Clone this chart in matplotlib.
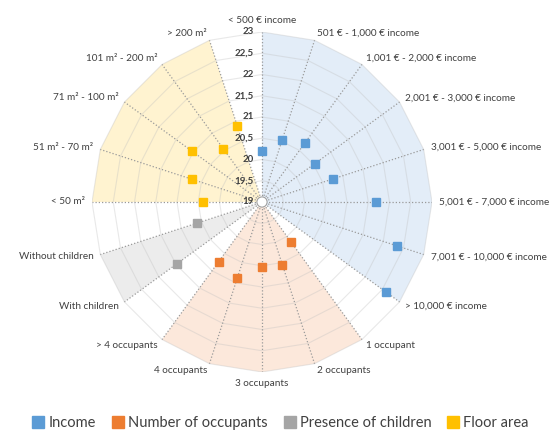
import numpy as np
import matplotlib
matplotlib.use("Agg")
import matplotlib.pyplot as plt
from matplotlib.lines import Line2D
from matplotlib.patches import Circle

plt.rcParams['font.family'] = ['Lato', 'DejaVu Sans']

income_labels = ["< 500 € income", "501 € - 1,000 € income", "1,001 € - 2,000 € income",
                 "2,001 € - 3,000 € income", "3,001 € - 5,000 € income", "5,001 € - 7,000 € income",
                 "7,001 € - 10,000 € income", "> 10,000 € income"]
occupant_labels = ["1 occupant", "2 occupants", "3 occupants", "4 occupants", "> 4 occupants"]
children_labels = ["With children", "Without children"]
floor_labels = ["< 50 m²", "51 m² - 70 m²", "71 m² - 100 m²", "101 m² - 200 m²", "> 200 m²"]

income = [20.2, 20.53, 20.73, 20.53, 20.76, 21.68, 22.34, 22.62]
occupants = [20.16, 20.55, 20.52, 20.88, 20.74]
children = [21.47, 20.61]
floor_area = [20.38, 20.73, 21.03, 20.55, 20.89]

r_ticks = [19, 19.5, 20, 20.5, 21, 21.5, 22, 22.5, 23]
r_tick_labels = ["19", "19,5", "20", "20,5", "21", "21,5", "22", "22,5", "23"]
series_names = ["Income", "Number of occupants", "Presence of children", "Floor area"]
marker_colors = ["#5b9bd5", "#ed7d31", "#a5a5a5", "#ffc000"]
fill_colors = ["#e3edf8", "#fce8db", "#ececec", "#fff3d0"]

groups = [income_labels, occupant_labels, children_labels, floor_labels]
values = [income, occupants, children, floor_area]
categories = sum(groups, [])
N = len(categories)
angles = np.arange(N) * 2 * np.pi / N
rmin, rmax = r_ticks[0], r_ticks[-1]


def xy(theta, v):
    r = np.asarray(v) - rmin
    return r * np.sin(theta), r * np.cos(theta)


fig = plt.figure(figsize=(5.6, 4.32), dpi=100)
R = 170
ax = fig.add_axes([(262 - R) / 560, (432 - 202 - R) / 432, 2 * R / 560, 2 * R / 432])
ax.set_xlim(-(rmax - rmin), rmax - rmin)
ax.set_ylim(-(rmax - rmin), rmax - rmin)
ax.axis('off')

# group fills
start = 0
for g, fc in zip(groups, fill_colors):
    idx = np.arange(start, start + len(g))
    xs, ys = xy(angles[idx], [rmax] * len(idx))
    ax.fill(np.r_[0, xs, 0], np.r_[0, ys, 0], color=fc, lw=0, zorder=1)
    start += len(g)

# ring grid
for rt in r_ticks[1:]:
    xs, ys = xy(np.r_[angles, angles[0]], [rt] * (N + 1))
    ax.plot(xs, ys, color="#bfbfbf", alpha=0.35, lw=0.8, zorder=2)

# spokes
for a in angles:
    xs, ys = xy(np.array([a, a]), [rmin, rmax])
    ax.plot(xs, ys, color="#9a9a9a", lw=0.9, ls=(0, (1, 1.6)), zorder=3)

ax.add_patch(Circle((0, 0), 0.12, fill=True, fc="white", ec="#a0a0a0", lw=0.8, zorder=4))

# markers
start = 0
for g, v, mc in zip(groups, values, marker_colors):
    idx = np.arange(start, start + len(g))
    xs, ys = xy(angles[idx], v)
    ax.plot(xs, ys, ls='none', marker='s', ms=5.8, color=mc, mec=mc, zorder=5)
    start += len(g)

# radial tick labels
for rt, lab in zip(r_ticks, r_tick_labels):
    ax.text(-0.2, rt - rmin, lab, ha='right', va='center', fontsize=7,
            fontweight='bold', color="#404040", zorder=6)

# category labels
off = (rmax - rmin) + 0.17
for a, lab in zip(angles, categories):
    s, c = np.sin(a), np.cos(a)
    x, y = off * s, off * c
    if abs(s) < 1e-6:
        ha = 'center'
        va = 'bottom' if c > 0 else 'top'
    else:
        ha = 'left' if s > 0 else 'right'
        va = 'center'
    ax.text(x, y, lab, ha=ha, va=va, fontsize=7.2, color="#404040")

handles = [Line2D([], [], ls='none', marker='s', ms=8, color=mc) for mc in marker_colors]
fig.legend(handles, series_names, loc='lower center', bbox_to_anchor=(0.5, -0.025), ncol=4,
           frameon=False, fontsize=10.5, handletextpad=0.2, columnspacing=1.0,
           handlelength=1.0, labelcolor="#404040")

fig.savefig("out.png", dpi=100, facecolor="white")
